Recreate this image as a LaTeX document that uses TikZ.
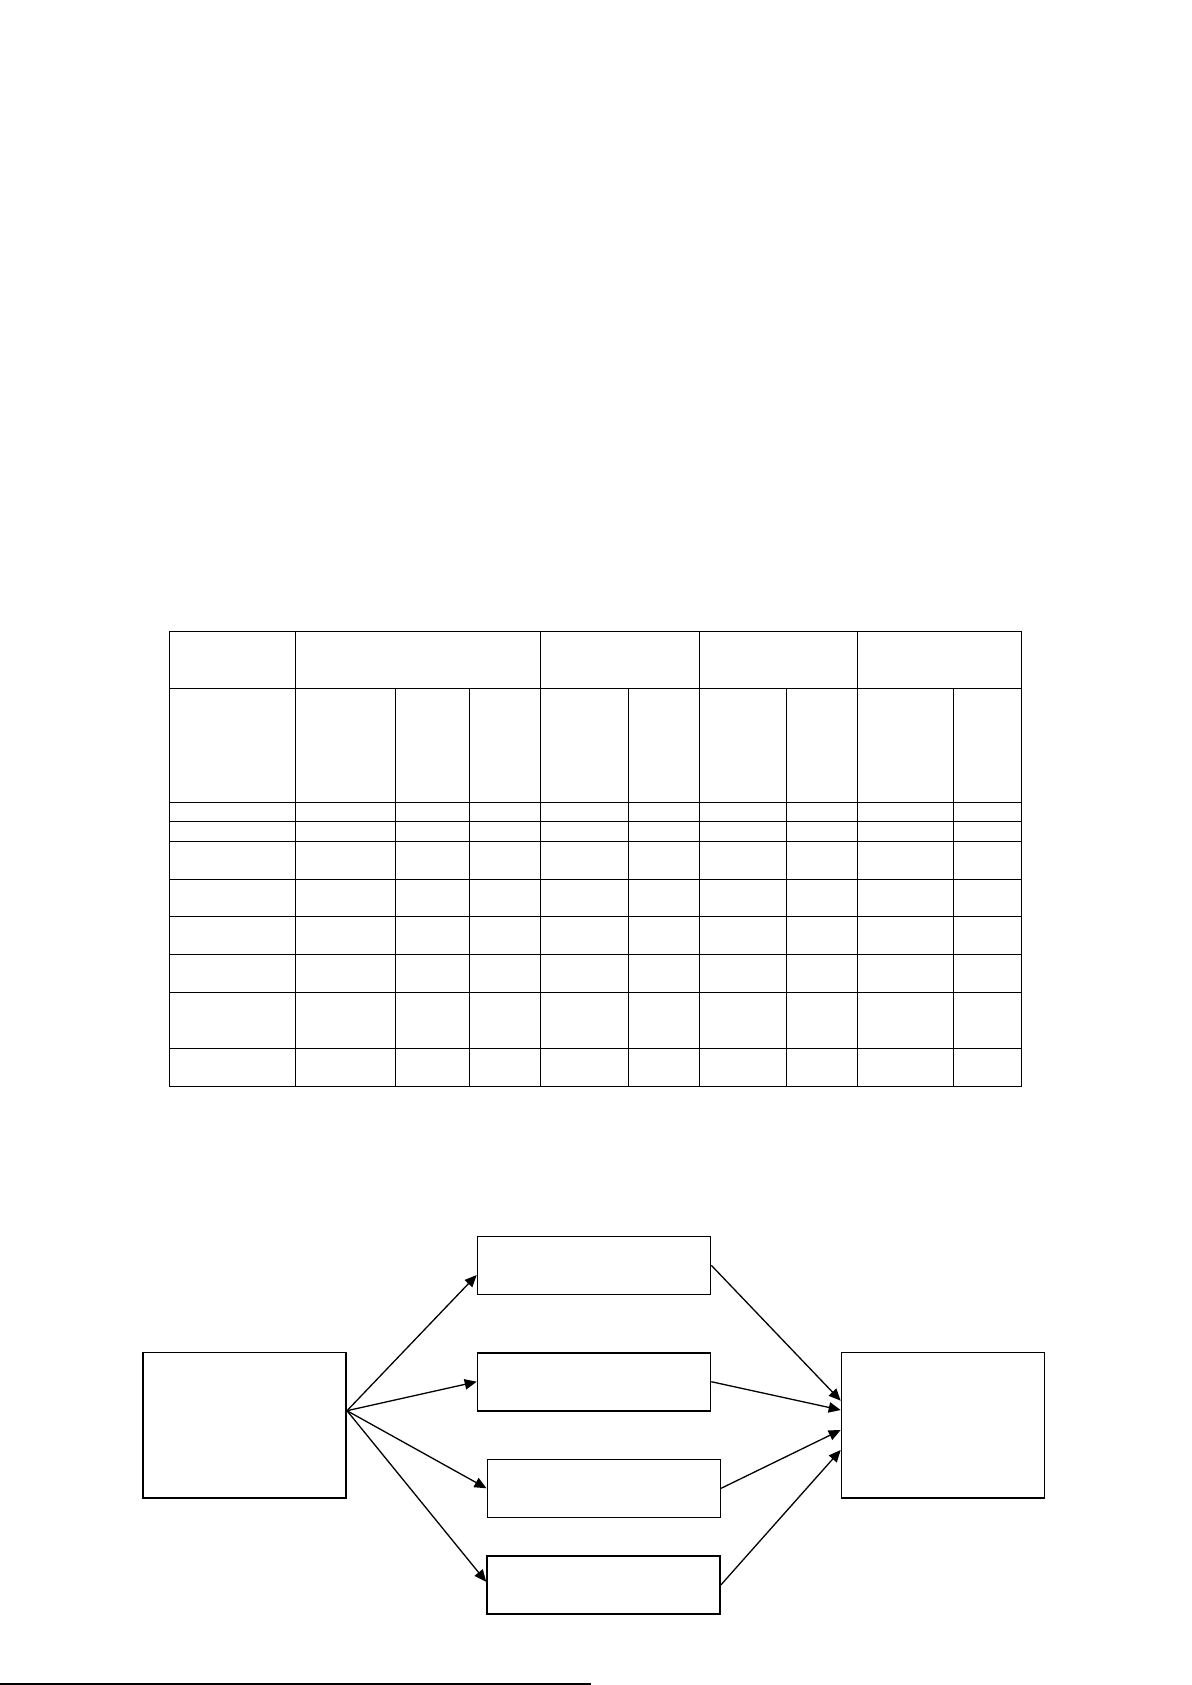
\documentclass[tikz,border=0pt]{standalone}
\usepackage{tikz}
\usetikzlibrary{arrows.meta, positioning}

\begin{document}
\begin{tikzpicture}[
    x=0.5pt, y=-0.5pt,
    punkt/.style = {rectangle, draw, line width=0.8pt, inner sep=0pt,
                    minimum width=116.5pt, minimum height=29pt},
    tall/.style = {punkt, minimum width=101.5pt, minimum height=72.75pt},
    pil/.style = {black, line width=0.65pt, -{Triangle[length=6pt, width=5.2pt]}},
    rule/.style = {black, line width=0.6pt}
    ]
    \useasboundingbox (0,0) rectangle (1191,1685);

    % table
    \draw[rule] (169.4,631.5) rectangle (1021.7,1086.7);
    \foreach \y in {688.3, 802.3, 821.3, 841.3, 879.3, 916.3, 954.3, 992.3, 1048.3}
        \draw[rule] (169.4,\y) -- (1021.7,\y);
    \foreach \x in {295.4, 540.7, 699.6, 857.6}
        \draw[rule] (\x,631.5) -- (\x,1086.7);
    \foreach \x in {395.3, 469.5, 628.5, 786.5, 953.3}
        \draw[rule] (\x,688.3) -- (\x,1086.7);

    %nodes
    \node[tall]  (src)   at (244.7,1425.3) {};
    \node[punkt] (m1)    at (594,1265.3) {};
    \node[punkt] (m2)    at (594,1381.7) {};
    \node[punkt] (m3)    at (603.8,1488.3) {};
    \node[punkt] (m4)    at (603.5,1585) {};
    \node[tall]  (dst)   at (943,1425.3) {};

    % edges
    \draw[pil] ([yshift=7.3pt]src.east) -- ([yshift=-4.85pt]m1.west);
    \draw[pil] ([yshift=7.3pt]src.east) -- (m2.west);
    \draw[pil] ([yshift=7.3pt]src.east) -- (m3.west);
    \draw[pil] ([yshift=7.3pt]src.east) -- ([yshift=1.6pt]m4.west);
    \draw[pil] (m1.east) -- ([yshift=12.3pt]dst.west);
    \draw[pil] (m2.east) -- ([yshift=7.65pt]dst.west);
    \draw[pil] (m3.east) -- ([yshift=-2.35pt]dst.west);
    \draw[pil] (m4.east) -- ([yshift=-12.35pt]dst.west);

    % footer rule
    \draw[rule] (0,1684) -- (591,1684);
\end{tikzpicture}
\end{document}
